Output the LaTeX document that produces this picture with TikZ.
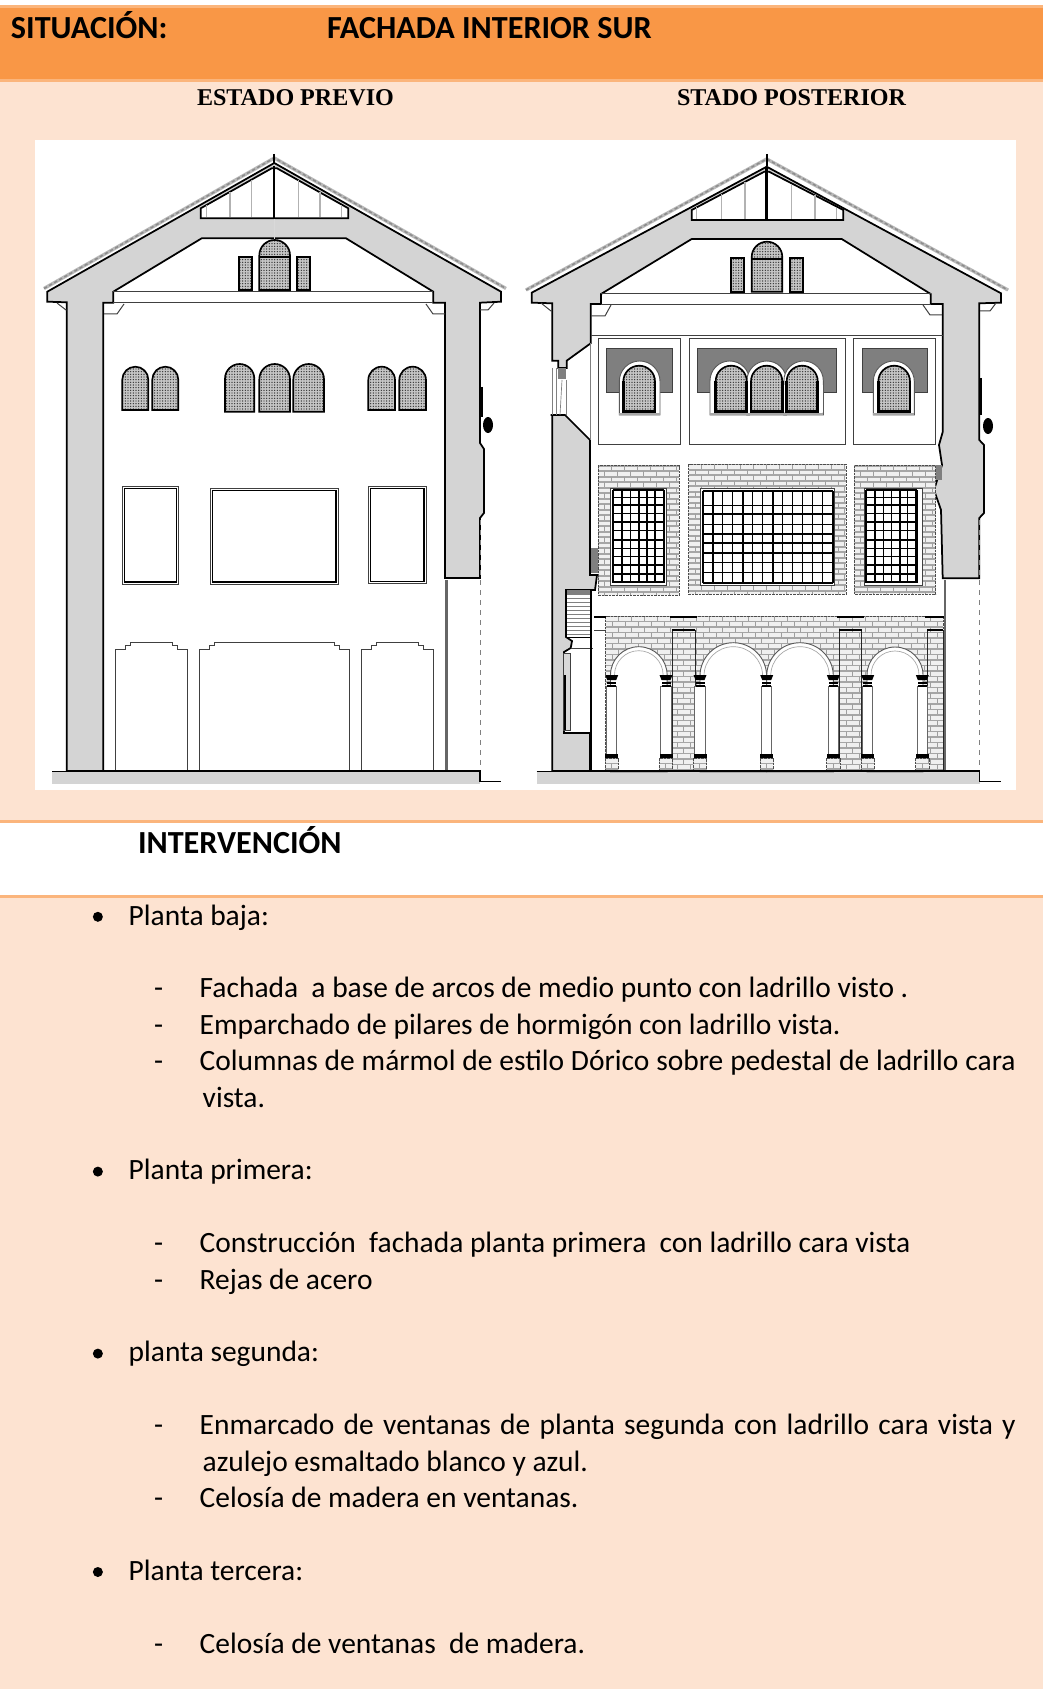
\documentclass[tikz,border=0pt]{standalone}
\usepackage{fontspec}
\setmainfont{Carlito}
\newfontfamily\serifhead{Liberation Serif}
\usetikzlibrary{positioning, patterns.meta}

\definecolor{bandorange}{HTML}{F99746}
\definecolor{ruleorange}{HTML}{FBB57C}
\definecolor{peach}{HTML}{FDE3D1}
\definecolor{wallgray}{HTML}{D4D4D4}
\definecolor{alfizgray}{HTML}{7F7F7F}

\tikzset{
  head/.style={inner sep=0, outer sep=0, anchor=base west, font=\fontsize{19.3pt}{23pt}\selectfont\bfseries},
  subhead/.style={inner sep=0, outer sep=0, anchor=base west, font=\serifhead\fontsize{14.45pt}{17pt}\selectfont\bfseries},
  txt/.style={inner sep=0, outer sep=0, text height=15.84pt, text depth=6pt, font=\fontsize{17.68pt}{21pt}\selectfont},
  dotmark/.style={circle, fill=black, inner sep=0, outer sep=0, minimum size=6pt},
  wall/.style={fill=wallgray, draw=black, line width=1.05pt, line join=miter},
  glass/.style={preaction={fill=gray!45}, pattern={Dots[distance=1.6pt, radius=0.42pt]}, pattern color=black!80, draw=black, line width=1pt},
  thinline/.style={draw=black!75, line width=0.6pt},
  tile/.style={draw=gray!55, line width=2pt},
  tilemark/.style={draw=gray!90, line width=0.9pt, dash pattern=on 2pt off 1.5pt},
  mullion/.style={draw=gray!60, line width=0.7pt},
  bar/.style={draw=black, line width=0.8pt},
  heavybar/.style={draw=black, line width=1.4pt},
  brickrow/.style={draw=gray!70, line width=1.1pt},
  brickjoint/.style={draw=gray!75, line width=0.55pt},
  archband/.style={fill=white, draw=gray!70!black, line width=0.55pt},
}

% arched opening: style, x left, x right, y top, y bottom
\newcommand{\archshape}[5]{%
  \pgfmathsetmacro\archrad{(#3-#2)/2}%
  \pgfmathsetmacro\archyy{#4+\archrad}%
  \path[#1] (#2,#5) -- (#2,\archyy) arc[start angle=180, end angle=360, radius=\archrad] -- (#3,#5) -- cycle;%
}
% brick wall inside a rectangle
\newcommand{\brickfill}[4]{%
  \begin{scope}
    \clip (#1,#2) rectangle (#3,#4);
    \fill[gray!12] (#1,#2) rectangle (#3,#4);
    \pgfmathtruncatemacro\rowmax{(#4-#2)/5.5}
    \pgfmathtruncatemacro\colmax{(#3-#1)/13+1}
    \foreach \rw in {0,...,\rowmax}{
      \pgfmathsetmacro\rowy{#2+\rw*5.5}
      \pgfmathsetmacro\rowoff{mod(\rw,2)*6.5}
      \draw[brickrow] (#1,\rowy) -- (#3,\rowy);
      \foreach \cl in {0,...,\colmax}{
        \pgfmathsetmacro\colx{#1+\cl*13+\rowoff}
        \draw[brickjoint] (\colx,\rowy) -- (\colx,\rowy+5.5);
      }
    }
  \end{scope}%
  \draw[black!70, line width=0.45pt, dash pattern=on 1.5pt off 0.6pt] (#1,#2) rectangle (#3,#4);%
}

\begin{document}
\begin{tikzpicture}[x=0.6pt, y=-0.6pt, node distance=0pt]
  \useasboundingbox (0,0) rectangle (1043,1689);

  % Page bands
  \fill[white] (0,0) rectangle (1043,1689);
  \fill[peach] (0,80) rectangle (1043,820);
  \fill[peach] (0,896) rectangle (1043,1689);
  \fill[ruleorange] (0,5) rectangle (1043,82);
  \fill[bandorange] (0,8) rectangle (1043,79);
  \fill[ruleorange] (0,820) rectangle (1043,823);
  \fill[ruleorange] (0,895) rectangle (1043,898);
  \fill[white] (35,140) rectangle (1016,790);

  % Headings
  \node[head] (sit) at (11,38.5) {SITUACIÓN:};
  \node[head] (fachada) at (327,38.5) {FACHADA INTERIOR SUR};
  \node[subhead] (previo) at (197,106) {ESTADO PREVIO};
  \node[subhead] (posterior) at (677,106) {STADO POSTERIOR};
  \node[head] (interv) at (138,853.5) {INTERVENCIÓN};

  % Left building: roof and walls
  \fill[wallgray] (52,771) rectangle (480,784);
  \draw[tile] (44,288.5) -- (274.3,158) -- (506,288.5);
  \draw[tilemark] (44,288.5) -- (274.3,158) -- (506,288.5);
  \draw[wall] (47.3,291.7) -- (47.3,301.7) -- (66.7,302.3) -- (66.7,771) -- (103.3,771) -- (103.3,302.7)
    -- (113.3,302.7) -- (113.3,291.7) -- (201.7,238.3) -- (346,238.3) -- (433.3,291.7) -- (433.3,302.7)
    -- (445,302.7) -- (445,578) -- (480,578) -- (480,518) -- (484,513) -- (484,449) -- (480,443)
    -- (480,302.7) -- (501,301.7) -- (501,291.7) -- (274.3,163) -- cycle;
  \draw[thinline] (113.3,291.7) -- (433.3,291.7);
  \draw[thinline] (113.3,303) -- (433.3,303);
  \draw[line width=1.3pt] (274.3,154) -- (274.3,164);
  % Left building: brackets
  \draw[thinline] (57,303) -- (66,310) -- (66.7,310);
  \draw[thinline] (104,314) -- (117,314) -- (124,304);
  \draw[thinline] (426,304) -- (433,314) -- (445,314);
  \draw[thinline] (480,310) -- (488,310) -- (494,303);
  % Left building: garret
  \draw[wall, fill=white] (200.7,218.3) -- (200.7,208.3) -- (271.7,168.3) -- (277,168.3) -- (348.3,208.3) -- (348.3,218.3) -- cycle;
  \foreach \mx/\my in {206.7/205, 230/192, 251.7/180, 298.3/180, 320/192, 341.7/205}
    \draw[mullion] (\mx,\my) -- (\mx,217.5);
  \draw[line width=1.3pt] (274.3,166) -- (274.3,218);
  \draw[gray!30, line width=0.4pt] (274.3,219) -- (274.3,240);
  % Left building: attic windows
  \draw[glass] (239,257.3) rectangle (252.3,290);
  \draw[glass] (296.7,257.3) rectangle (310,290);
  \archshape{glass}{259.3}{290}{240}{290}
  \draw[black, line width=1.1pt] (259.3,257.3) -- (290,257.3);
  % Left building: upper row of arches
  \foreach \xa/\xb in {122.3/148.3, 152.3/178.3, 368.3/395, 399.3/426}{
    \archshape{glass}{\xa}{\xb}{366.7}{410}
  }
  \foreach \xa/\xb in {225/254.3, 259.3/290, 293.3/324}{
    \archshape{glass}{\xa}{\xb}{364}{411.7}
  }
  % Left building: middle row of openings
  \foreach \xa/\ya/\xb/\yb in {122.3/486/178.3/584, 210.3/488.3/338/584, 368.3/486/426/583.3}{
    \draw[thinline] (\xa,\ya) rectangle (\xb,\yb);
    \draw[black, line width=0.8pt] (\xa+2.5,\ya+2.5) rectangle (\xb-2,\yb-2);
  }
  % Left building: ground openings
  \foreach \xa/\xb in {115.7/187.7, 199.3/349.3, 361/433.3}
    \draw[thinline] (\xa,770) -- (\xa,649) -- (\xa+10,649) -- (\xa+10,645.5) -- (\xa+15,645.5) -- (\xa+15,642)
      -- (\xb-15,642) -- (\xb-15,645.5) -- (\xb-10,645.5) -- (\xb-10,649) -- (\xb,649) -- (\xb,770);
  \draw[line width=1.1pt] (52,771.5) -- (66.7,771.5);
  \draw[line width=1.4pt] (103.3,770.7) -- (480,770.7);
  \draw[gray!80!black, line width=1.5pt] (446.3,580) -- (446.3,770);
  \draw[gray, dashed, line width=0.6pt] (480,520) -- (480,770);
  \draw[line width=0.7pt] (480,770) -- (480,781.5) -- (501,781.5);
  % Left building: wall ornament
  \draw[line width=1.2pt] (482,387) -- (482,417);
  \fill[black] (488,425) ellipse (5 and 8);

  % Right building: roof and walls
  \fill[wallgray] (536.7,771) rectangle (980,784);
  \draw[tile] (526,290) -- (766.7,159) -- (1008,290);
  \draw[tilemark] (526,290) -- (766.7,159) -- (1008,290);
  \draw[wall] (531.7,292.7) -- (531.7,302.7) -- (552.3,303.3) -- (552.3,360.7) -- (558.3,360.7) -- (558.3,368)
    -- (566.7,368) -- (566.7,360.7) -- (590.7,343.3) -- (590.7,304) -- (601,304) -- (601,294) -- (691.7,239)
    -- (841.7,239) -- (930.7,294) -- (930.7,304) -- (942.7,304) -- (942.7,432) -- (939,445) -- (942,465)
    -- (934,490) -- (941,510) -- (942.7,578.3) -- (979.3,578.3) -- (979.3,518) -- (984,513) -- (984,445)
    -- (979.3,440) -- (979.3,303.3) -- (1001,302.7) -- (1001,293.3) -- (766.7,166.7) -- cycle;
  \draw[wall] (550.7,415) -- (565,415) -- (590,440) -- (590,575) -- (597,575) -- (595,590) -- (566,590)
    -- (566,637) -- (572,641) -- (570.7,648) -- (564,652) -- (564,733) -- (590,733) -- (590,771) -- (552.3,771) -- (552.3,415);
  \draw[thinline] (601,294) -- (930.7,294);
  \draw[thinline] (601,304.5) -- (930.7,304.5);
  \draw[thinline] (590.7,336) -- (942.7,336);
  \draw[line width=1.3pt] (766.7,154) -- (766.7,166);
  % Right building: side gallery
  \fill[alfizgray] (558,368) rectangle (566,379);
  \draw[gray, line width=0.4pt] (552.3,368) -- (552.3,415);
  \draw[gray, line width=0.4pt] (556,368) -- (556,415);
  \draw[gray, line width=0.4pt] (562,380) -- (560,415);
  \draw[gray, line width=0.4pt] (566,380) -- (566,415);
  \draw[gray, line width=0.4pt] (590.7,343) -- (590.7,440);
  \fill[alfizgray] (590.7,548) rectangle (600,573);
  \fill[alfizgray] (932,465) rectangle (942,480);
  % Right building: stair and lattice
  \fill[white] (566,590) rectangle (591,637);
  \fill[alfizgray] (566,590) rectangle (591,595);
  \draw[line width=0.6pt] (566,590) -- (566,637) -- (591,637);
  \foreach \sy in {598,602,...,634}
    \draw[gray, line width=0.4pt] (567,\sy) -- (590,\sy);
  \fill[white] (571,648) rectangle (591,732);
  \draw[thinline] (571,648) -- (593,648);
  \draw[fill=gray!30, thinline] (563.5,653) rectangle (570.7,730);
  \draw[line width=1.6pt] (565,675) -- (565,730);
  \draw[line width=0.9pt] (591,590) -- (591,771);
  % Right building: brackets
  \draw[thinline] (541,303) -- (551,311) -- (552,311);
  \draw[thinline] (591,316) -- (605,316) -- (611,305);
  \draw[thinline] (923,305) -- (930,315) -- (942,315);
  \draw[thinline] (980,311) -- (990,311) -- (996,303);
  % Right building: garret
  \draw[wall, fill=white] (691.7,220) -- (691.7,210) -- (764.3,171.7) -- (769,171.7) -- (843.3,210) -- (843.3,220) -- cycle;
  \foreach \mx/\my in {696.7/207, 721.7/194, 745/182, 791.7/184, 815/195, 836.7/208}
    \draw[mullion] (\mx,\my) -- (\mx,219);
  \draw[line width=1.5pt] (766.7,167) -- (766.7,221);
  % Right building: attic windows
  \draw[glass] (731,258.3) rectangle (744,291.7);
  \draw[glass] (790,258.3) rectangle (803.3,291.7);
  \archshape{glass}{751.7}{782.3}{241.7}{291.7}
  \draw[black, line width=1.2pt] (751.7,259.3) -- (782.3,259.3);
  % Right building: upper floor panels
  \foreach \xa/\xb/\dxa/\dxb in {598/680.3/606.7/672, 689/845.3/697.7/836, 853.3/935.7/862/927}{
    \draw[thinline] (\xa,338.3) rectangle (\xb,444.7);
    \draw[fill=alfizgray, thinline] (\dxa,349) rectangle (\dxb,392.7);
  }
  \foreach \xa/\xb in {619.3/660, 873.3/914.3}{
    \archshape{archband}{\xa}{\xb}{361}{415}
    \fill[gray!70] (\xa,412.7) rectangle (\xb,415.3);
  }
  \archshape{archband}{710}{749.5}{361}{415}
  \archshape{archband}{746.9}{786.5}{361}{415}
  \archshape{archband}{783.9}{823.3}{361}{415}
  \fill[white] (711,385) rectangle (822.7,412);
  \fill[gray!70] (710,412.7) rectangle (823.3,415.3);
  \foreach \xa/\xb in {623.3/655, 878.3/910, 715.7/746.7, 751/782.3, 786.7/817.7}{
    \archshape{glass}{\xa}{\xb}{365.7}{411.7}
    \draw[line width=1.6pt] (\xa,381) -- (\xa,411.7) -- (\xb,411.7) -- (\xb,381);
  }

  % Right building: brick panels of the first floor
  \brickfill{598}{465.7}{679.3}{595}
  \brickfill{688.7}{464.3}{846}{594.3}
  \brickfill{854.3}{465.7}{935.7}{594.3}
  \foreach \xa/\ya/\xb/\yb in {610/488.3/666/585, 700.5/488.5/834/585, 864.5/488.3/922.5/585}
    \draw[thinline, fill=white] (\xa,\ya) rectangle (\xb,\yb);
  % Right building: grilles
  \foreach \gx in {0, 252.5}{
    \foreach \vx in {630.7, 639, 655}
      \draw[bar] (\gx+\vx,490) -- (\gx+\vx,583);
    \foreach \vx in {613.3, 622.3, 647.3, 664}
      \draw[heavybar] (\gx+\vx,490) -- (\gx+\vx,583);
    \foreach \hy in {490, 497.3, 505, 513.3, 530.7, 540, 548.3, 556.7, 565, 574, 582}
      \draw[bar] (\gx+613.3,\hy) -- (\gx+664,\hy);
    \draw[heavybar] (\gx+613.3,521.7) -- (\gx+664,521.7);
  }
  \foreach \vx in {722.7, 732.7, 752.7, 762.7, 782.7, 792.7, 802.7, 812.7, 822.7}
    \draw[bar] (\vx,491) -- (\vx,583);
  \foreach \vx in {702.7, 712.7, 742.7, 772.7, 832.7}
    \draw[heavybar] (\vx,491) -- (\vx,583);
  \foreach \hy in {491, 505.5, 524.5, 534, 543, 553, 562.5, 572.5}
    \draw[bar] (702.7,\hy) -- (832.7,\hy);
  \draw[heavybar] (702.7,514) -- (832.7,514);
  \draw[heavybar] (702.7,583) -- (832.7,583);

  % Right building: ground floor
  \brickfill{605.7}{616}{943}{770.7}
  \foreach \ca/\cr/\cy in {638.8/28.3/675, 733.3/33.3/676, 800/33.3/676, 895/28/675}{
    \path[archband] (\ca-\cr,772) -- (\ca-\cr,\cy) arc[start angle=180, end angle=360, radius=\cr] -- (\ca+\cr,772) -- cycle;
    \draw[gray!70, line width=0.4pt] (\ca-\cr+4,\cy) arc[start angle=180, end angle=360, radius=\cr-4];
  }
  \foreach \xa/\xb in {672.3/695, 839/861.7, 927/943}{
    \draw[black!85, line width=0.45pt] (\xa,630) -- (\xa,770);
    \draw[black!85, line width=0.45pt] (\xb,630) -- (\xb,770);
    \draw[line width=0.8pt] (\xa-2,617) -- (\xb+2,617);
    \draw[line width=0.7pt] (\xa,630) -- (\xb,630);
  }
  \draw[line width=0.7pt] (594,617) -- (606,617);
  \draw[thinline] (594,630) -- (606,630);
  % Right building: columns
  \foreach \cx in {611.7, 666, 700, 766.7, 833.3, 867.7, 922.3}{
    \brickfill{\cx-6.7}{758}{\cx+6.7}{770.7}
    \draw[draw=gray!80!black, line width=0.55pt, fill=white] (\cx-5.2,686) rectangle (\cx+5.2,754);
    \fill[black] (\cx-6.5,754) rectangle (\cx+6.5,758);
    \fill[black] (\cx-6.5,675) -- (\cx+6.5,675) -- (\cx+4.5,680) -- (\cx-4.5,680) -- cycle;
    \fill[black] (\cx-4.5,682) rectangle (\cx+4.5,683.5);
    \fill[black] (\cx-4.5,685) rectangle (\cx+4.5,687);
  }
  \draw[line width=1.4pt] (590,770.7) -- (979.3,770.7);
  \draw[line width=1.1pt] (536.7,771.5) -- (552.3,771.5);
  \draw[gray!80!black, line width=1.5pt] (945,580) -- (945,770);
  \draw[gray, dashed, line width=0.6pt] (979.3,520) -- (979.3,770);
  \draw[line width=0.7pt] (979.3,770) -- (979.3,781.5) -- (1001,781.5);
  % Right building: wall ornament
  \draw[line width=1.2pt] (981,378) -- (981,415);
  \fill[black] (988,426) ellipse (5 and 8);

  % Floor list
  \node[txt, anchor=base west] (pb) at (128.7,925) {Planta baja:};
  \node[txt, below=21.84pt of pb.south west, anchor=north west, xshift=42.6pt] (fach) {Fachada\ \ a base de arcos de medio punto con ladrillo visto .};
  \node[txt, below=0pt of fach.south west, anchor=north west] (empa) {Emparchado de pilares de hormigón con ladrillo vista.};
  \node[txt, below=0pt of empa.south west, anchor=north west] (colu) {\makebox[489.6pt][s]{Columnas de mármol de estilo Dórico sobre pedestal de ladrillo cara}};
  \node[txt, below=0pt of colu.south west, anchor=north west, xshift=1.8pt] (colb) {vista.};
  \node[txt, below=21.84pt of colb.south west, anchor=north west, xshift=-44.4pt] (pp) {Planta primera:};
  \node[txt, below=21.84pt of pp.south west, anchor=north west, xshift=42.6pt] (cons) {Construcción\ \ fachada planta primera\ \ con ladrillo cara vista};
  \node[txt, below=0pt of cons.south west, anchor=north west] (reja) {Rejas de acero};
  \node[txt, below=21.84pt of reja.south west, anchor=north west, xshift=-42.6pt] (ps) {planta segunda:};
  \node[txt, below=21.84pt of ps.south west, anchor=north west, xshift=42.6pt] (enma) {\makebox[489.6pt][s]{Enmarcado de ventanas de planta segunda con ladrillo cara vista y}};
  \node[txt, below=0pt of enma.south west, anchor=north west, xshift=1.8pt] (azul) {azulejo esmaltado blanco y azul.};
  \node[txt, below=0pt of azul.south west, anchor=north west, xshift=-1.8pt] (celo) {Celosía de madera en ventanas.};
  \node[txt, below=21.84pt of celo.south west, anchor=north west, xshift=-42.6pt] (pt) {Planta tercera:};
  \node[txt, below=21.84pt of pt.south west, anchor=north west, xshift=42.6pt] (celv) {Celosía de ventanas\ \ de madera.};
  \foreach \n in {pb, pp, ps, pt}
    \node[dotmark, left=15.5pt of \n] (dot\n) {};
  \foreach \n in {fach, empa, colu, cons, reja, enma, celo, celv}
    \node[txt, left=22pt of \n] (dash\n) {-};
\end{tikzpicture}
\end{document}
